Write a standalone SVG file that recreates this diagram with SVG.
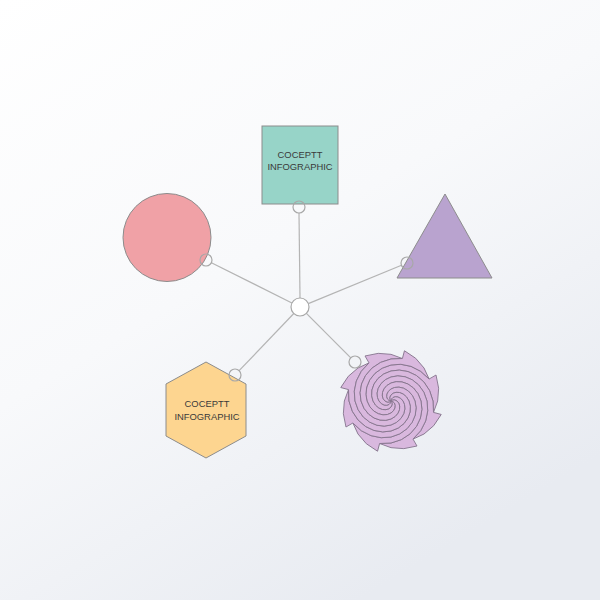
<svg xmlns="http://www.w3.org/2000/svg" xmlns:xlink="http://www.w3.org/1999/xlink" width="600" height="600" viewBox="0 0 600 600">
<defs>
<linearGradient id="bg" x1="0" y1="0" x2="0.6" y2="1">
<stop offset="0" stop-color="#ffffff"/>
<stop offset="0.5" stop-color="#f8f9fb"/>
<stop offset="1" stop-color="#e8ebf1"/>
</linearGradient>
<path id="blade" d="M0,0 L1.93,0.52 L3.46,2 L4.24,4.24 L4,6.93 L2.59,9.66 L0,12 L-3.62,13.52 L-8,13.86 L-12.73,12.73 L-17.32,10 L-21.25,5.69 L-24,0 L-25.11,-6.73 L-24.25,-14 L-21.21,-21.21 L-16,-27.71 L-8.8,-32.84 L0,-36 L9.84,-36.71 L20,-34.64 L29.7,-29.7 L38.11,-22 L45.03,-26 L47.65,-12.77 L46.67,0 L42.5,11.39 L42,0 L38.64,-10.35 L32.91,-19 L25.46,-25.46 L17,-29.44 L8.28,-30.91 L0,-30 L-7.25,-27.05 L-13,-22.52 L-16.97,-16.97 L-19.05,-11 L-19.32,-5.18 L-18,0 L-15.45,4.14 L-12.12,7 L-8.49,8.49 L-5,8.66 L-2.07,7.73 L0,6 L1.04,3.86 L1,1.73 Z"/>
</defs>
<style>
.shape{stroke:#8c8c8c;stroke-width:1}
.conn{stroke:#b4b4b4;stroke-width:1.2;fill:none}
.port{fill:none;stroke:#a8a8a8;stroke-width:1.2}
.lbl{font-family:"Liberation Sans",Arial,sans-serif;font-size:9.4px;fill:#3a3a3a;text-anchor:middle}
.blade{fill:#d9b8de;stroke:#86768e;stroke-width:0.9;stroke-linejoin:round}
</style>
<rect width="600" height="600" fill="url(#bg)"/>
<g id="connectors">
<line class="conn" x1="300" y1="298" x2="299" y2="213"/>
<line class="conn" x1="291.9" y1="303" x2="211.4" y2="262.7"/>
<line class="conn" x1="308.3" y1="303.6" x2="401.5" y2="265.3"/>
<line class="conn" x1="306.4" y1="313.4" x2="350.8" y2="357.8"/>
<line class="conn" x1="293.8" y1="313.5" x2="239.1" y2="370.7"/>
</g>
<g id="hub">
<circle cx="300" cy="307" r="9" fill="#ffffff" stroke="#a8a8a8" stroke-width="1.2"/>
</g>
<g id="node-square">
<rect class="shape" x="262" y="126" width="76" height="78" fill="#97d4c8"/>
<text class="lbl" x="300" y="157.5">COCEPTT</text>
<text class="lbl" x="300" y="169.5">INFOGRAPHIC</text>
<circle class="port" cx="299" cy="207" r="6"/>
</g>
<g id="node-circle">
<circle class="shape" cx="167" cy="237.5" r="44" fill="#f0a1a6" stroke="#a88a8c"/>
<circle class="port" cx="206" cy="260" r="6"/>
</g>
<g id="node-triangle">
<polygon class="shape" points="445,194 492,278 397,278" fill="#b9a3cf" stroke="#857a90"/>
<circle class="port" cx="407" cy="263" r="6"/>
</g>
<g id="node-hexagon">
<polygon class="shape" points="206,362 246,384 246,436 206,458 166,436 166,384" fill="#fdd590" stroke="#9a9080"/>
<text class="lbl" x="207" y="406.5">COCEPTT</text>
<text class="lbl" x="207" y="419.5">INFOGRAPHIC</text>
<circle class="port" cx="235" cy="375" r="6"/>
</g>
<g id="node-spiral" transform="translate(391,401)">
<use class="blade" xlink:href="#blade" href="#blade"/>
<use class="blade" xlink:href="#blade" href="#blade" transform="rotate(45)"/>
<use class="blade" xlink:href="#blade" href="#blade" transform="rotate(90)"/>
<use class="blade" xlink:href="#blade" href="#blade" transform="rotate(135)"/>
<use class="blade" xlink:href="#blade" href="#blade" transform="rotate(180)"/>
<use class="blade" xlink:href="#blade" href="#blade" transform="rotate(225)"/>
<use class="blade" xlink:href="#blade" href="#blade" transform="rotate(270)"/>
<use class="blade" xlink:href="#blade" href="#blade" transform="rotate(315)"/>
</g>
<g id="spiral-port">
<circle class="port" cx="355" cy="362" r="6"/>
</g>
</svg>
